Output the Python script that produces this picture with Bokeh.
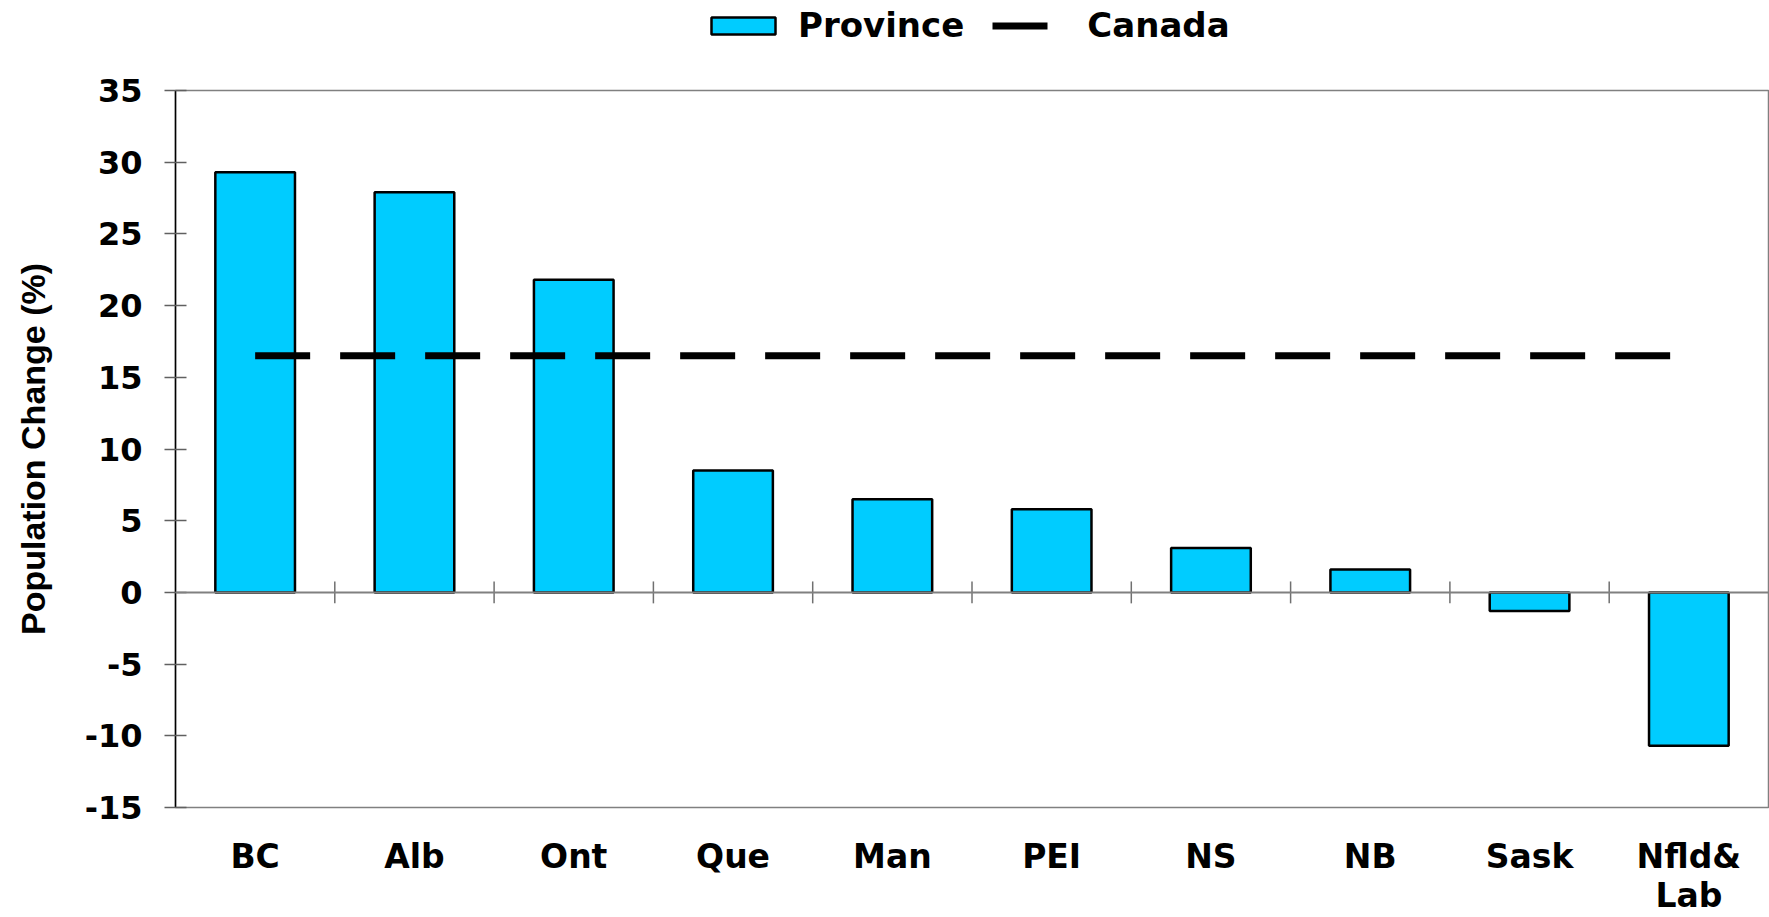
from bokeh.plotting import figure
from bokeh.layouts import column
from bokeh.models import (Range1d, FixedTicker, Span, Legend, LegendItem, ColumnDataSource)
from bokeh.embed import file_html
from bokeh.resources import INLINE

# ---- data ----
provinces = ["BC", "Alb", "Ont", "Que", "Man", "PEI", "NS", "NB", "Sask", "Nfld&\nLab"]
change = [29.3, 27.9, 21.8, 8.5, 6.5, 5.8, 3.1, 1.6, -1.3, -10.7]
canada = 16.5
y_ticks = [-15, -10, -5, 0, 5, 10, 15, 20, 25, 30, 35]

n = len(provinces)
centers = [i + 0.5 for i in range(n)]
ymin, ymax = -15, 35
frame_h = 720.0
px = (ymax - ymin) / frame_h  # data units per pixel

BAR_STYLE = dict(fill_color="#00CCFF", line_color="black", line_width=2.5)
LINE_STYLE = dict(line_color="black", line_width=7, line_dash="55 30", line_cap="butt")

W = 1769
TOP_H = 68          # legend strip height
BORDER_L, BORDER_R = 175, 1

# ---------------- legend strip (top) ----------------
lg = figure(width=W, height=TOP_H, output_backend="svg", toolbar_location=None,
            x_range=Range1d(0, W - BORDER_L - BORDER_R), y_range=Range1d(0, TOP_H),
            x_axis_location=None, y_axis_location=None,
            min_border_left=BORDER_L, min_border_right=BORDER_R,
            min_border_top=0, min_border_bottom=0)
lg.outline_line_color = None
lg.grid.visible = False
lg.background_fill_color = "white"
lg.border_fill_color = "white"
nan = float("nan")
key_src = ColumnDataSource(dict(x=[nan], top=[nan], y=[nan]))
lg_bar = lg.vbar(x="x", top="top", bottom=0, width=1, source=key_src, **BAR_STYLE)
lg_line = lg.line(x="x", y="y", source=key_src, **LINE_STYLE)
legend = Legend(items=[LegendItem(label="Province", renderers=[lg_bar]),
                       LegendItem(label="Canada", renderers=[lg_line])],
                orientation="horizontal", location=(528, 23),
                glyph_width=80, glyph_height=21, label_standoff=15, spacing=28,
                padding=0, margin=0, border_line_color=None,
                background_fill_alpha=0,
                label_text_font="DejaVu Sans", label_text_font_style="bold",
                label_text_font_size="34px", label_text_color="black")
lg.add_layout(legend, "center")

# ---------------- main chart ----------------
p = figure(width=W, height=917 - TOP_H, output_backend="svg", toolbar_location=None,
           x_range=Range1d(0, n), y_range=Range1d(ymin, ymax),
           min_border_left=BORDER_L, min_border_top=90 - TOP_H,
           min_border_right=BORDER_R, min_border_bottom=107)
p.background_fill_color = "white"
p.border_fill_color = "white"
p.outline_line_color = "#808080"
p.outline_line_width = 1.5
p.grid.visible = False

# zero line
p.add_layout(Span(location=0, dimension="width", line_color="#808080", line_width=2))

# bars
src = ColumnDataSource(dict(x=centers, top=change))
bars = p.vbar(x="x", top="top", bottom=0, width=0.5, source=src, **BAR_STYLE)

# category separators on zero line (+-11 px)
tk = 11 * px
seps = list(range(1, n))
p.segment(x0=seps, y0=[-tk] * len(seps), x1=seps, y1=[tk] * len(seps),
          line_color="#707070", line_width=1.5)

# Canada dashed line
line = p.line(x=[centers[0], centers[-1]], y=[canada, canada], **LINE_STYLE)

# y axis
ya = p.yaxis[0]
ya.ticker = FixedTicker(ticks=y_ticks)
ya.major_label_overrides = {t: str(t) for t in y_ticks}
ya.axis_label = "Population Change (%)"
ya.axis_label_text_font = "Liberation Sans"
ya.axis_label_text_font_style = "bold"
ya.axis_label_text_font_size = "34px"
ya.axis_label_text_color = "black"
ya.axis_label_standoff = 30
ya.major_label_text_font = "DejaVu Sans"
ya.major_label_text_font_style = "bold"
ya.major_label_text_font_size = "32px"
ya.major_label_text_color = "black"
ya.major_label_standoff = 22
ya.major_tick_in = 11
ya.major_tick_out = 11
ya.major_tick_line_color = "#606060"
ya.major_tick_line_width = 1.5
ya.minor_tick_line_color = None
ya.axis_line_color = "black"
ya.axis_line_width = 1.5

# x axis: labels at the bottom of the frame
xa = p.xaxis[0]
xa.ticker = FixedTicker(ticks=centers)
xa.major_label_overrides = {c: lab for c, lab in zip(centers, provinces)}
xa.major_label_text_font = "DejaVu Sans"
xa.major_label_text_font_style = "bold"
xa.major_label_text_font_size = "33px"
xa.major_label_text_line_height = 1.0
xa.major_label_text_color = "black"
xa.major_label_standoff = 29
xa.major_tick_in = 0
xa.major_tick_out = 0
xa.major_tick_line_color = None
xa.minor_tick_line_color = None
xa.axis_line_color = None

layout = column(lg, p, spacing=0)
open("out.html", "w").write(file_html(layout, INLINE))
